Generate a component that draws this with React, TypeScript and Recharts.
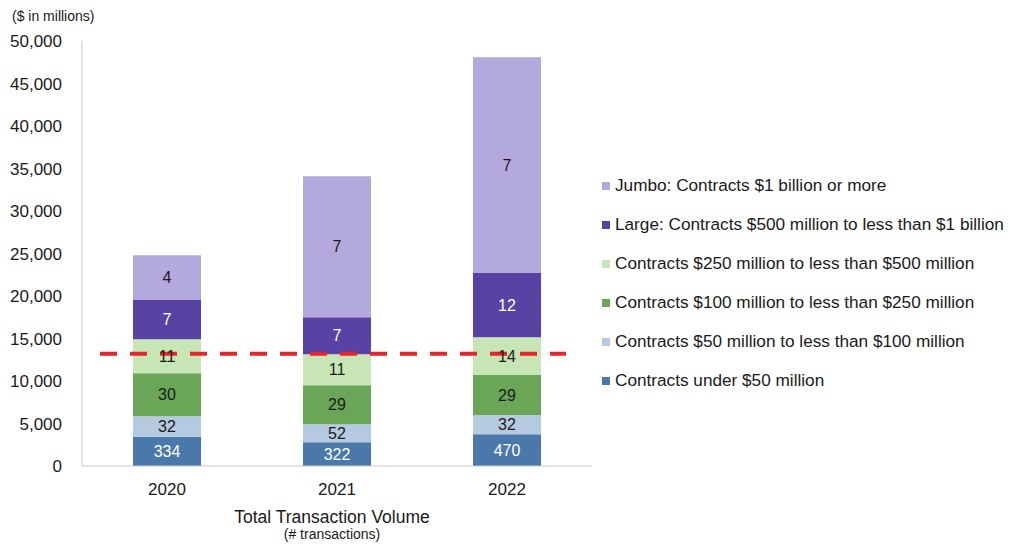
import React from 'react';
import { BarChart, Bar, XAxis, YAxis, LabelList, ReferenceLine } from 'recharts';

// values in $ millions
const years = ['2020', '2021', '2022'];
const under50 = [3400, 2800, 3750];
const m50to100 = [2450, 2100, 2250];
const m100to250 = [5050, 4600, 4700];
const m250to500 = [4000, 3650, 4450];
const large = [4700, 4350, 7550];
const jumbo = [5200, 16600, 25400];

// number of transactions shown inside each segment
const under50N = [334, 322, 470];
const m50to100N = [32, 52, 32];
const m100to250N = [30, 29, 29];
const m250to500N = [11, 11, 14];
const largeN = [7, 7, 12];
const jumboN = [4, 7, 7];

const yTicks = [0, 5000, 10000, 15000, 20000, 25000, 30000, 35000, 40000, 45000, 50000];
const threshold = 13200;

const series = [
  { key: 'under50', name: 'Contracts under $50 million', values: under50, counts: under50N, color: '#4a78aa', text: '#ffffff' },
  { key: 'm50to100', name: 'Contracts $50 million to less than $100 million', values: m50to100, counts: m50to100N, color: '#b5c9e1', text: '#1a1a1a' },
  { key: 'm100to250', name: 'Contracts $100 million to less than $250 million', values: m100to250, counts: m100to250N, color: '#6ba557', text: '#1a1a1a' },
  { key: 'm250to500', name: 'Contracts $250 million to less than $500 million', values: m250to500, counts: m250to500N, color: '#c8e5b6', text: '#1a1a1a' },
  { key: 'large', name: 'Large: Contracts $500 million to less than $1 billion', values: large, counts: largeN, color: '#5842a4', text: '#ffffff' },
  { key: 'jumbo', name: 'Jumbo: Contracts $1 billion or more', values: jumbo, counts: jumboN, color: '#b4a9dd', text: '#1a1a1a' },
];

const data = years.map((year, i) => {
  const row: Record<string, string | number> = { year };
  series.forEach((s) => {
    row[s.key] = s.values[i];
    row[s.key + 'N'] = s.counts[i];
  });
  return row;
});

const font = '"Liberation Sans", Arial, sans-serif';

const DashedLine = (props: any) => {
  const { x1, x2, y1 } = props;
  return (
    <line
      x1={x1 + 18}
      x2={x2 - 26}
      y1={y1}
      y2={y1}
      stroke="#e3262b"
      strokeWidth={4}
      strokeDasharray="17 13"
    />
  );
};

export default function App() {
  return (
    <div style={{ position: 'absolute', left: 0, top: 0, width: 1010, height: 548, background: '#fff', fontFamily: font, color: '#1a1a1a' }}>
      <div style={{ position: 'absolute', left: 12, top: 8, fontSize: 14 }}>($ in millions)</div>
      <BarChart width={1010} height={548} data={data} margin={{ top: 41, right: 418, bottom: 0, left: 0 }} barCategoryGap="30%">
        <XAxis
          dataKey="year"
          height={82}
          tickLine={false}
          axisLine={{ stroke: '#c9c9c9' }}
          tick={{ fill: '#1a1a1a', fontSize: 17, fontFamily: font }}
          tickSize={6}
          tickMargin={11}
        />
        <YAxis
          width={82}
          domain={[0, 50000]}
          ticks={yTicks}
          tickFormatter={(v: number) => v.toLocaleString('en-US')}
          tickLine={false}
          axisLine={{ stroke: '#c9c9c9' }}
          tick={{ fill: '#1a1a1a', fontSize: 17, fontFamily: font }}
          tickSize={6}
          tickMargin={14}
          interval={0}
        />
        {series.map((s) => (
          <Bar key={s.key} dataKey={s.key} name={s.name} stackId="a" fill={s.color} isAnimationActive={false}>
            <LabelList dataKey={s.key + 'N'} position="center" fill={s.text} fontSize={16} fontFamily={font} />
          </Bar>
        ))}
        <ReferenceLine y={threshold} shape={DashedLine} />
      </BarChart>
      <div style={{ position: 'absolute', left: 602, top: 166, fontSize: 17.2 }}>
        {[...series].reverse().map((s) => (
          <div key={s.key} style={{ display: 'flex', alignItems: 'center', height: 39, whiteSpace: 'nowrap' }}>
            <span style={{ width: 8, height: 8, background: s.color, marginRight: 5, display: 'inline-block' }} />
            {s.name}
          </div>
        ))}
      </div>
      <div style={{ position: 'absolute', left: 82, width: 500, top: 508, textAlign: 'center' }}>
        <div style={{ fontSize: 17.5, lineHeight: '19px' }}>Total Transaction Volume</div>
        <div style={{ fontSize: 14, lineHeight: '15px' }}>(# transactions)</div>
      </div>
    </div>
  );
}
